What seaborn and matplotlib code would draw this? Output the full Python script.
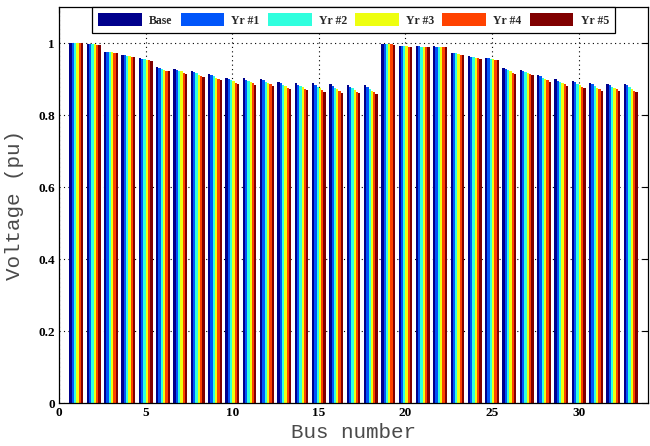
import numpy as np
import pandas as pd
import matplotlib
matplotlib.use("Agg")
import matplotlib.pyplot as plt
from matplotlib.patches import Patch
import seaborn as sns

# Bus voltage profile of the 33-bus feeder over the planning horizon
buses = list(range(1, 34))
series_names = ["Base", "Yr #1", "Yr #2", "Yr #3", "Yr #4", "Yr #5"]

base = [1.000, 0.997, 0.976, 0.967, 0.958, 0.932, 0.929, 0.922, 0.913, 0.904,
        0.902, 0.900, 0.892, 0.888, 0.889, 0.886, 0.883, 0.882, 0.998, 0.993,
        0.992, 0.991, 0.973, 0.964, 0.959, 0.930, 0.926, 0.911, 0.899, 0.895,
        0.889, 0.887, 0.886]
yr1 = [1.000, 0.997, 0.975, 0.966, 0.956, 0.930, 0.926, 0.919, 0.910, 0.901,
       0.898, 0.896, 0.888, 0.884, 0.884, 0.881, 0.878, 0.877, 0.997, 0.992,
       0.991, 0.990, 0.972, 0.962, 0.958, 0.927, 0.923, 0.907, 0.895, 0.891,
       0.885, 0.883, 0.882]
yr2 = [1.000, 0.996, 0.974, 0.965, 0.955, 0.928, 0.923, 0.916, 0.907, 0.897,
       0.895, 0.892, 0.884, 0.880, 0.879, 0.876, 0.874, 0.872, 0.997, 0.991,
       0.990, 0.990, 0.971, 0.960, 0.956, 0.924, 0.920, 0.903, 0.892, 0.887,
       0.880, 0.879, 0.877]
yr3 = [1.000, 0.996, 0.974, 0.963, 0.953, 0.925, 0.921, 0.912, 0.903, 0.894,
       0.891, 0.889, 0.880, 0.877, 0.875, 0.872, 0.869, 0.868, 0.996, 0.991,
       0.990, 0.989, 0.969, 0.959, 0.955, 0.921, 0.917, 0.900, 0.888, 0.882,
       0.876, 0.875, 0.873]
yr4 = [1.000, 0.995, 0.973, 0.962, 0.952, 0.923, 0.918, 0.909, 0.900, 0.890,
       0.888, 0.885, 0.876, 0.873, 0.870, 0.867, 0.865, 0.863, 0.996, 0.990,
       0.989, 0.989, 0.968, 0.957, 0.953, 0.918, 0.914, 0.896, 0.885, 0.878,
       0.871, 0.871, 0.868]
yr5 = [1.000, 0.995, 0.972, 0.961, 0.950, 0.921, 0.915, 0.906, 0.897, 0.887,
       0.884, 0.881, 0.872, 0.869, 0.865, 0.862, 0.860, 0.858, 0.995, 0.989,
       0.988, 0.988, 0.967, 0.955, 0.952, 0.915, 0.911, 0.892, 0.881, 0.874,
       0.867, 0.867, 0.864]

colors = ["#00008C", "#0055FA", "#30FFDE", "#EEFF10", "#FF4200", "#800000"]

df = pd.DataFrame({
    "Bus": np.tile(buses, len(series_names)),
    "Voltage": np.concatenate([base, yr1, yr2, yr3, yr4, yr5]),
    "Series": np.repeat(series_names, len(buses)),
})

sns.set_theme(style="white")
tick_font = {"family": "Liberation Serif", "weight": "bold", "size": 9.5}

fig = plt.figure(figsize=(6.5, 4.46), dpi=100)
ax = fig.add_axes([59 / 650, 1 - 403 / 446, (648 - 59) / 650, (403 - 7) / 446])

sns.barplot(data=df, x="Bus", y="Voltage", hue="Series", hue_order=series_names,
            palette=colors, native_scale=True, width=0.8, saturation=1,
            errorbar=None, linewidth=0, legend=False, ax=ax)

ax.set_xlim(0, 34)
ax.set_ylim(0, 1.1)
ax.set_xticks([0, 5, 10, 15, 20, 25, 30])
ax.set_xticklabels(["0", "5", "10", "15", "20", "25", "30"], fontdict=tick_font)
ax.set_yticks([0, 0.2, 0.4, 0.6, 0.8, 1.0])
ax.set_yticklabels(["0", "0.2", "0.4", "0.6", "0.8", "1"], fontdict=tick_font)

ax.set_axisbelow(True)
ax.grid(True, linestyle=(0, (1, 3)), color="black", linewidth=0.8)
ax.tick_params(direction="in", top=True, right=True, length=4, width=0.8,
               colors="black", pad=3)
for s in ax.spines.values():
    s.set_color("black")
    s.set_linewidth(0.9)

ax.set_xlabel("Bus number", fontfamily="Liberation Mono", fontsize=15,
              color="#4a4a4a", labelpad=3)
ax.set_ylabel("Voltage (pu)", fontfamily="Liberation Mono", fontsize=15,
              color="#4a4a4a", labelpad=10)

handles = [Patch(facecolor=c, edgecolor="none") for c in colors]
leg = ax.legend(handles, series_names, loc="upper center", bbox_to_anchor=(0.5, 1.0),
                ncol=6, borderaxespad=0, frameon=True, fancybox=False,
                handlelength=3.7, handleheight=1.3, handletextpad=0.6,
                columnspacing=0.7, borderpad=0.55,
                prop={"family": "Liberation Serif", "weight": "bold", "size": 8.5})
leg.get_frame().set_edgecolor("black")
leg.get_frame().set_linewidth(0.9)
leg.get_frame().set_alpha(1)

fig.savefig("out.png", dpi=100)
